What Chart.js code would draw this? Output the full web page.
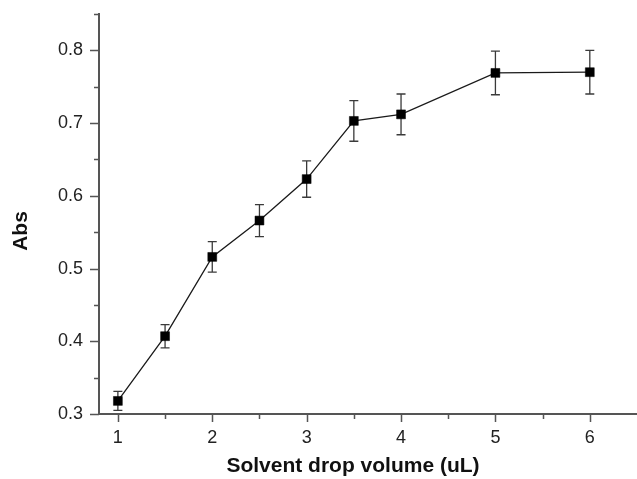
<!DOCTYPE html>
<html>
<head>
<meta charset="utf-8">
<script src="https://cdn.jsdelivr.net/npm/chart.js@4/dist/chart.umd.min.js"></script>
<style>
html,body{margin:0;padding:0;background:#fff;}
#wrap{width:637px;height:479px;position:relative;}
</style>
</head>
<body>
<div id="wrap"><canvas id="c" width="637" height="479"></canvas></div>
<script>
const volumes = [1, 1.5, 2, 2.5, 3, 3.5, 4, 5, 6];
const absValues = [0.318, 0.407, 0.516, 0.566, 0.623, 0.703, 0.712, 0.769, 0.770];
const absErrors = [0.013, 0.016, 0.021, 0.022, 0.025, 0.028, 0.028, 0.030, 0.030];
const xTickLabels = [1, 2, 3, 4, 5, 6];
const yTickLabels = [0.3, 0.4, 0.5, 0.6, 0.7, 0.8];
const xTitle = 'Solvent drop volume (uL)';
const yTitle = 'Abs';

const axisColor = '#555';
const fontFam = '"Liberation Sans", Arial, sans-serif';

const overlay = {
  id: 'overlay',
  beforeDatasetsDraw(chart) {
    const ctx = chart.ctx;
    const xs = chart.scales.x, ys = chart.scales.y;
    ctx.save();
    ctx.strokeStyle = '#3a3a3a';
    ctx.lineWidth = 1.3;
    volumes.forEach((v, i) => {
      const px = xs.getPixelForValue(v);
      const top = ys.getPixelForValue(absValues[i] + absErrors[i]);
      const bot = ys.getPixelForValue(absValues[i] - absErrors[i]);
      ctx.beginPath();
      ctx.moveTo(px, top); ctx.lineTo(px, bot);
      ctx.moveTo(px - 4.5, top); ctx.lineTo(px + 4.5, top);
      ctx.moveTo(px - 4.5, bot); ctx.lineTo(px + 4.5, bot);
      ctx.stroke();
    });
    ctx.restore();
  },
  afterDraw(chart) {
    const ctx = chart.ctx;
    const xs = chart.scales.x, ys = chart.scales.y;
    const area = chart.chartArea;
    ctx.save();
    ctx.strokeStyle = axisColor;
    ctx.lineWidth = 1.5;
    ctx.beginPath();
    for (let v = 1; v <= 6.0001; v += 0.5) {
      const px = Math.round(xs.getPixelForValue(v)) + 0.5;
      const major = Math.abs(v - Math.round(v)) < 1e-6;
      ctx.moveTo(px, area.bottom);
      ctx.lineTo(px, area.bottom + (major ? 8 : 5));
    }
    for (let v = 0.3; v <= 0.8501; v += 0.05) {
      const py = Math.round(ys.getPixelForValue(v)) + 0.5;
      const major = Math.abs(v * 10 - Math.round(v * 10)) < 1e-6;
      ctx.moveTo(area.left, py);
      ctx.lineTo(area.left - (major ? 9 : 5), py);
    }
    ctx.stroke();
    ctx.fillStyle = '#111';
    ctx.font = 'bold 21px ' + fontFam;
    ctx.textAlign = 'center';
    ctx.textBaseline = 'middle';
    ctx.fillText(xTitle, 353, 466);
    ctx.translate(21, 231);
    ctx.rotate(-Math.PI / 2);
    ctx.fillText(yTitle, 0, 0);
    ctx.restore();
  }
};

function zeroPad(s) { s.paddingTop = 0; s.paddingBottom = 0; s.paddingLeft = 0; s.paddingRight = 0; }

new Chart(document.getElementById('c'), {
  type: 'scatter',
  data: {
    datasets: [{
      data: volumes.map((v, i) => ({x: v, y: absValues[i]})),
      showLine: true,
      borderColor: '#1a1a1a',
      borderWidth: 1.3,
      pointStyle: 'rect',
      pointRadius: 6.3,
      pointBackgroundColor: '#000',
      pointBorderColor: '#000',
      pointBorderWidth: 0.5,
      tension: 0
    }]
  },
  options: {
    responsive: false,
    animation: false,
    devicePixelRatio: 1,
    layout: {autoPadding: false, padding: {top: 14, right: 0, left: 0, bottom: 0}},
    plugins: {legend: {display: false}, tooltip: {enabled: false}},
    scales: {
      x: {
        type: 'linear',
        min: 0.8,
        max: 6.5,
        afterFit: s => { s.height = 65; zeroPad(s); },
        afterBuildTicks: s => { s.ticks = xTickLabels.map(v => ({value: v})); },
        grid: {display: false, drawTicks: false},
        border: {display: true, color: axisColor, width: 2},
        ticks: {
          color: '#222',
          font: {family: fontFam, size: 18},
          padding: 13,
          maxRotation: 0,
          callback: v => String(v)
        }
      },
      y: {
        type: 'linear',
        min: 0.3,
        max: 0.85,
        afterFit: s => { s.width = 99; zeroPad(s); },
        afterBuildTicks: s => { s.ticks = yTickLabels.map(v => ({value: v})); },
        grid: {display: false, drawTicks: false},
        border: {display: true, color: axisColor, width: 2},
        ticks: {
          color: '#222',
          font: {family: fontFam, size: 18},
          padding: 16,
          callback: v => v.toFixed(1)
        }
      }
    }
  },
  plugins: [overlay]
});
</script>
</body>
</html>
